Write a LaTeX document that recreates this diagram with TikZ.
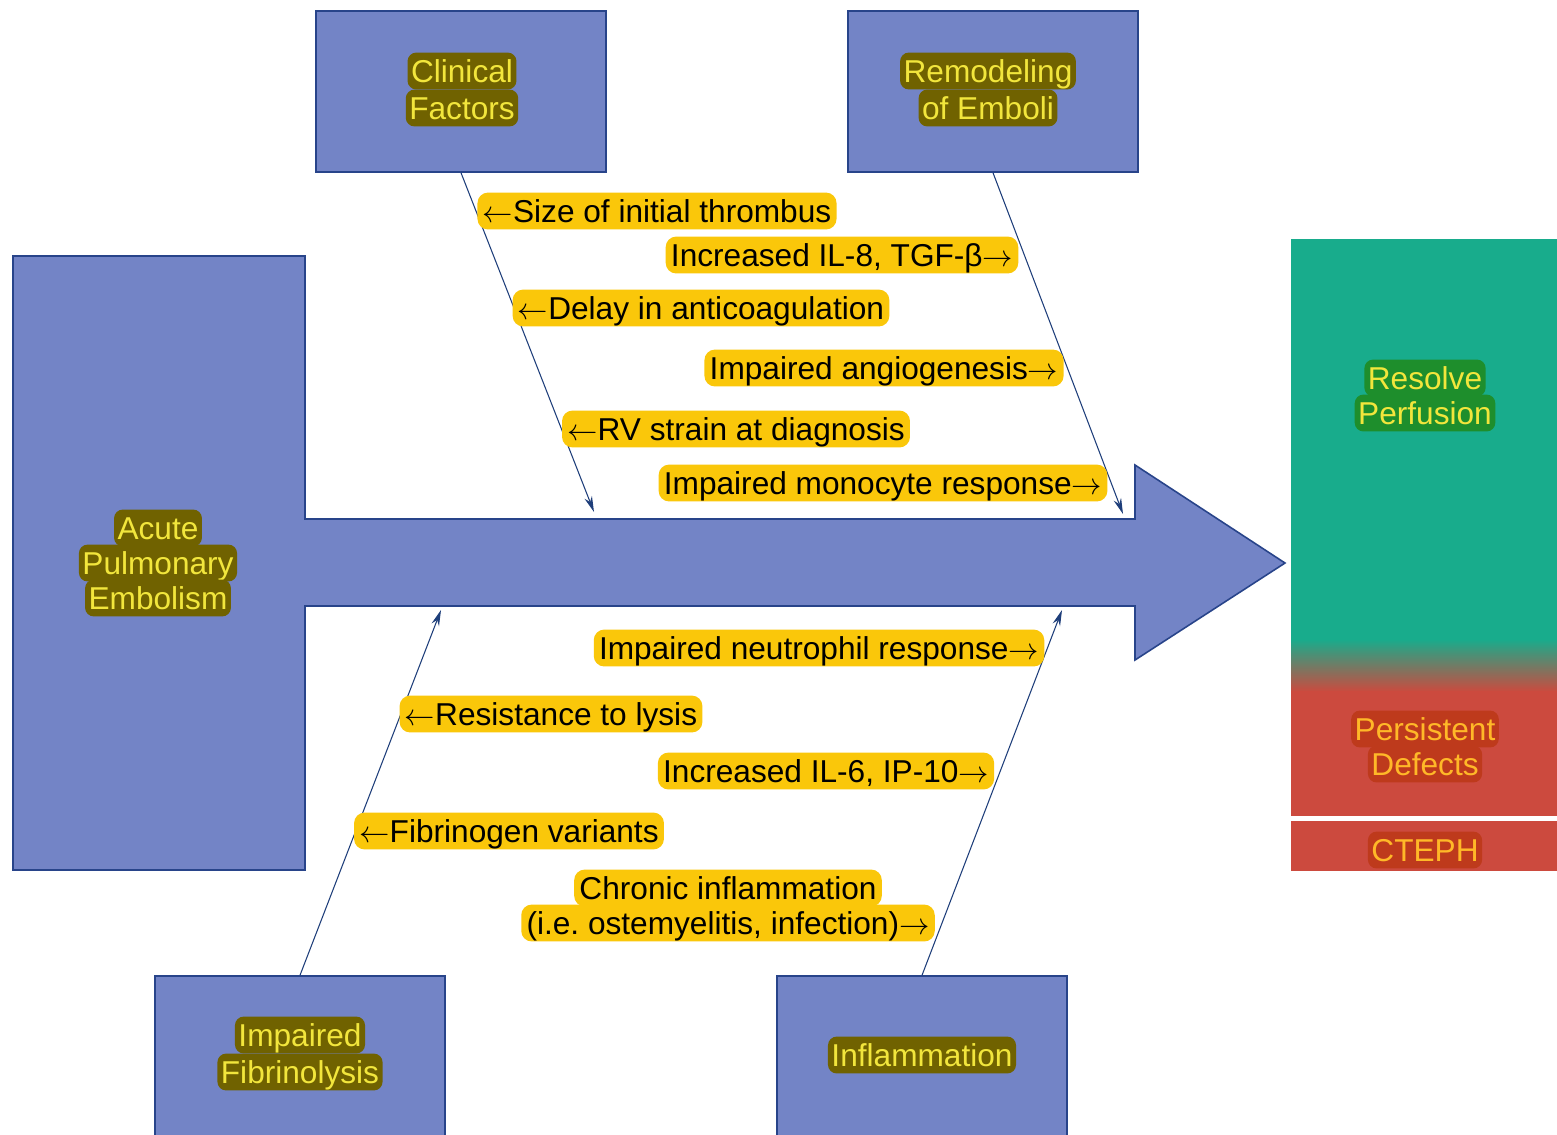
\documentclass[tikz,border=0pt]{standalone}
\usepackage{fontspec}
\setmainfont{Liberation Sans}
\usetikzlibrary{arrows.meta}
\frenchspacing

\definecolor{boxblue}{RGB}{115,132,198}
\definecolor{edgeblue}{RGB}{40,68,138}
\definecolor{tipblue}{RGB}{30,62,122}
\definecolor{amber}{RGB}{250,199,10}
\definecolor{olivebg}{RGB}{112,98,0}
\definecolor{lemon}{RGB}{242,230,60}
\definecolor{teal}{RGB}{24,172,140}
\definecolor{brick}{RGB}{204,74,62}
\definecolor{leafbg}{RGB}{30,142,44}
\definecolor{rustbg}{RGB}{190,58,28}
\definecolor{orangetxt}{RGB}{255,184,40}

\newcommand{\la}{$\leftarrow$}
\newcommand{\ra}{$\rightarrow$}

\tikzset{
  fishbox/.style={draw=edgeblue, line width=0.9pt, fill=boxblue,
    minimum width=5.8cm, minimum height=3.22cm, inner sep=0pt},
  boxtxt/.style={fill=olivebg, text=lemon, rounded corners=5pt,
    inner xsep=2pt, inner ysep=0.5pt, text height=16.5pt, text depth=3.5pt,
    font=\fontsize{18}{21}\selectfont},
  cause/.style={fill=amber, text=black, rounded corners=6pt,
    inner xsep=3pt, inner ysep=0.5pt, text height=16.5pt, text depth=3.5pt,
    font=\fontsize{18}{21}\selectfont},
  feed/.style={draw=tipblue, line width=0.6pt, -{Stealth[length=9pt,width=4.5pt]}},
}

\begin{document}
\begin{tikzpicture}[x=0.02cm, y=-0.02cm]
\clip (0,0) rectangle (1557,1134);
\fill[white] (0,0) rectangle (1557,1134);

% spine and head
\draw[edgeblue, line width=0.9pt, fill=boxblue] (13,256) -- (305,256) -- (305,519)
  -- (1135,519) -- (1135,465) -- (1285,563) -- (1135,660) -- (1135,606)
  -- (305,606) -- (305,870) -- (13,870) -- cycle;
\node[boxtxt] (ape1) at (158,528) {Acute};
\node[boxtxt] (ape2) at (158,563) {Pulmonary};
\node[boxtxt] (ape3) at (158,598) {Embolism};

% outcome panel
\fill[teal] (1291,239) rectangle (1557,640);
\shade[top color=teal, bottom color=brick] (1291,639) rectangle (1557,692);
\fill[brick] (1291,691) rectangle (1557,816);
\fill[brick] (1291,821) rectangle (1557,871);
\node[boxtxt, fill=leafbg] (res1) at (1425,378) {Resolve};
\node[boxtxt, fill=leafbg] (res2) at (1425,413) {Perfusion};
\node[boxtxt, fill=rustbg, text=orangetxt] (pd1) at (1425,729) {Persistent};
\node[boxtxt, fill=rustbg, text=orangetxt] (pd2) at (1425,764) {Defects};
\node[boxtxt, fill=rustbg, text=orangetxt] (cteph) at (1425,850) {CTEPH};

% category boxes
\node[fishbox] (clin) at (461,91.5) {};
\node[boxtxt] (clin1) at (462,71) {Clinical};
\node[boxtxt] (clin2) at (462,108) {Factors};
\node[fishbox] (remo) at (993,91.5) {};
\node[boxtxt] (remo1) at (988,71) {Remodeling};
\node[boxtxt] (remo2) at (988,108) {of Emboli};
\node[fishbox] (fibr) at (300,1056.5) {};
\node[boxtxt] (fibr1) at (300,1035) {Impaired};
\node[boxtxt] (fibr2) at (300,1072) {Fibrinolysis};
\node[fishbox] (infl) at (922,1056.5) {};
\node[boxtxt] (infl1) at (922,1055) {Inflammation};

% bones
\coordinate (clinEnd) at (594,512);
\coordinate (remoEnd) at (1123,514);
\coordinate (fibrEnd) at (441,610);
\coordinate (inflEnd) at (1062,610);
\draw[feed] (clin.south) -- (clinEnd);
\draw[feed] (remo.south) -- (remoEnd);
\draw[feed] (fibr.north) -- (fibrEnd);
\draw[feed] (infl.north) -- (inflEnd);

% upper causes
\node[cause] (size) at (657,211) {\la Size of initial thrombus};
\node[cause] (il8) at (842,255) {Increased IL-8, TGF-β\ra};
\node[cause] (delay) at (701,308) {\la Delay in anticoagulation};
\node[cause] (angio) at (884,368) {Impaired angiogenesis\ra};
\node[cause] (rv) at (736,429) {\la RV strain at diagnosis};
\node[cause] (mono) at (883,483) {Impaired monocyte response\ra};

% lower causes
\node[cause] (neut) at (819,648) {Impaired neutrophil response\ra};
\node[cause] (lysis) at (551,714) {\la Resistance to lysis};
\node[cause] (il6) at (826,771) {Increased IL-6, IP-10\ra};
\node[cause] (fbg) at (509,831) {\la Fibrinogen variants};
\node[cause] (chr1) at (728,888) {Chronic inflammation};
\node[cause] (chr2) at (728,923) {(i.e. ostemyelitis, infection)\ra};
\end{tikzpicture}
\end{document}
